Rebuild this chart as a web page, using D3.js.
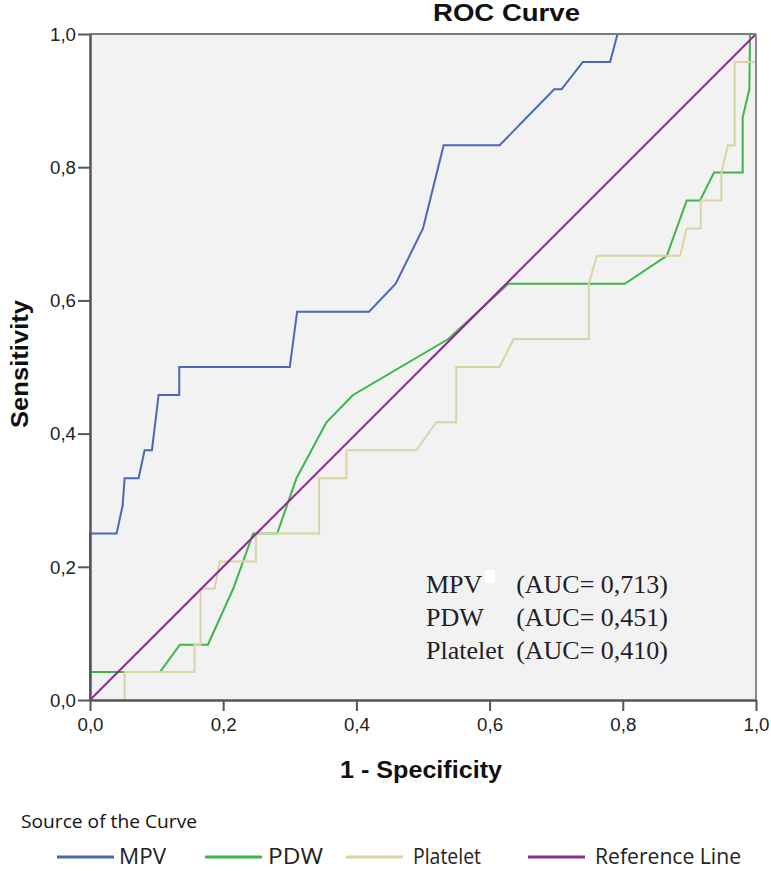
<!DOCTYPE html>
<html>
<head>
<meta charset="utf-8">
<script src="https://cdn.jsdelivr.net/npm/d3@7/dist/d3.min.js"></script>
<style>
  html, body { margin: 0; padding: 0; background: #fff; }
  svg { display: block; }
</style>
</head>
<body>
<svg id="chart" width="771" height="871"></svg>
<script>
// ---- data ----
const tickValues = [0, 0.2, 0.4, 0.6, 0.8, 1.0];
const tickLabels = ["0,0", "0,2", "0,4", "0,6", "0,8", "1,0"];
const seriesNames = ["MPV", "PDW", "Platelet", "Reference Line"];
const seriesColors = ["#4a67b8", "#3db54a", "#d9d4a2", "#8a2f8c"];
const aucLabels = ["MPV", "PDW", "Platelet"];
const aucValues = ["(AUC= 0,713)", "(AUC= 0,451)", "(AUC= 0,410)"];

const mpv = [[0,0],[0,0.25],[0.04,0.25],[0.049,0.292],[0.052,0.333],[0.073,0.333],[0.082,0.375],[0.093,0.375],
  [0.103,0.458],[0.134,0.458],[0.134,0.5],[0.3,0.5],[0.311,0.583],[0.419,0.583],[0.459,0.625],[0.5,0.708],
  [0.531,0.833],[0.615,0.833],[0.697,0.917],[0.708,0.917],[0.74,0.958],[0.781,0.958],[0.792,1],[1,1]];
const pdw = [[0,0],[0,0.042],[0.105,0.042],[0.135,0.083],[0.177,0.083],[0.215,0.167],[0.245,0.25],[0.281,0.25],
  [0.31,0.333],[0.355,0.417],[0.395,0.458],[0.538,0.542],[0.628,0.625],[0.803,0.625],[0.866,0.667],[0.896,0.75],
  [0.916,0.75],[0.937,0.792],[0.98,0.792],[0.98,0.875],[0.99,0.917],[0.991,1],[1,1]];
const platelet = [[0,0],[0.052,0],[0.052,0.042],[0.157,0.042],[0.157,0.083],[0.166,0.083],[0.166,0.167],[0.187,0.167],
  [0.195,0.208],[0.249,0.208],[0.249,0.25],[0.344,0.25],[0.344,0.333],[0.385,0.333],[0.385,0.375],[0.49,0.375],
  [0.52,0.417],[0.55,0.417],[0.55,0.5],[0.615,0.5],[0.636,0.542],[0.749,0.542],[0.749,0.625],[0.761,0.667],
  [0.886,0.667],[0.896,0.708],[0.917,0.708],[0.917,0.75],[0.948,0.75],[0.948,0.792],[0.958,0.833],[0.968,0.833],
  [0.968,0.958],[1,0.958],[1,1]];
const reference = [[0,0],[1,1]];

// ---- layout ----
const svg = d3.select("#chart");
const L = 90, R = 756, T = 34, B = 700;
const x = d3.scaleLinear().domain([0, 1]).range([L, R]);
const y = d3.scaleLinear().domain([0, 1]).range([B, T]);

svg.append("rect").attr("x", L).attr("y", T).attr("width", R - L).attr("height", B - T)
  .attr("fill", "#f2f2f2");

const line = d3.line().x(d => x(d[0])).y(d => y(d[1]));
const allSeries = [mpv, pdw, platelet, reference];
allSeries.forEach((s, i) => {
  svg.append("path").datum(s).attr("d", line)
    .attr("fill", "none").attr("stroke", seriesColors[i])
    .attr("stroke-width", 2).attr("stroke-linejoin", "miter");
});

svg.append("line").attr("x1", L).attr("x2", R).attr("y1", T).attr("y2", T)
  .attr("stroke", "#7a7a7a").attr("stroke-width", 2);
svg.append("line").attr("x1", R).attr("x2", R).attr("y1", T).attr("y2", B)
  .attr("stroke", "#8a8a8a").attr("stroke-width", 2);

const fmt = v => tickLabels[tickValues.indexOf(v)];
const yAxis = svg.append("g").attr("transform", `translate(${L},0)`)
  .call(d3.axisLeft(y).tickValues(tickValues).tickFormat(fmt).tickSize(12).tickSizeOuter(0).tickPadding(2));
const xAxis = svg.append("g").attr("transform", `translate(0,${B})`)
  .call(d3.axisBottom(x).tickValues(tickValues).tickFormat(fmt).tickSize(11).tickSizeOuter(0).tickPadding(5));
[yAxis, xAxis].forEach(g => {
  g.select(".domain").attr("stroke", "#555").attr("stroke-width", 2.5);
  g.selectAll(".tick line").attr("stroke", "#555").attr("stroke-width", 2);
  g.selectAll(".tick text").attr("font-family", "Liberation Sans, Arial, sans-serif")
    .attr("font-size", 18).attr("fill", "#222")
    .attr("textLength", 26).attr("lengthAdjust", "spacingAndGlyphs");
});
yAxis.selectAll(".tick text").attr("dy", "0.35em");
xAxis.selectAll(".tick text").attr("dy", "0.85em");

aucLabels.forEach((lab, i) => {
  const by = 593 + i * 33;
  svg.append("text").attr("x", 426).attr("y", by).text(lab)
    .attr("font-family", "Liberation Serif, Times New Roman, serif").attr("font-size", 26).attr("fill", "#1e1e28");
  svg.append("text").attr("x", 668).attr("y", by).text(aucValues[i]).attr("text-anchor", "end")
    .attr("font-family", "Liberation Serif, Times New Roman, serif").attr("font-size", 26).attr("fill", "#1e1e28");
});
svg.append("rect").attr("x", 485).attr("y", 570).attr("width", 10).attr("height", 13).attr("fill", "#fff");

svg.append("text").attr("x", 433).attr("y", 21).text("ROC Curve")
  .attr("font-family", "Liberation Sans, Arial, sans-serif").attr("font-weight", "bold")
  .attr("font-size", 23).attr("fill", "#111")
  .attr("textLength", 147).attr("lengthAdjust", "spacingAndGlyphs");
svg.append("text").attr("x", 340).attr("y", 778).text("1 - Specificity")
  .attr("font-family", "Liberation Sans, Arial, sans-serif").attr("font-weight", "bold")
  .attr("font-size", 23).attr("fill", "#111")
  .attr("textLength", 162).attr("lengthAdjust", "spacingAndGlyphs");
svg.append("text").attr("transform", "translate(28,428) rotate(-90)").text("Sensitivity")
  .attr("font-family", "Liberation Sans, Arial, sans-serif").attr("font-weight", "bold")
  .attr("font-size", 23).attr("fill", "#111")
  .attr("textLength", 128).attr("lengthAdjust", "spacingAndGlyphs");

svg.append("text").attr("x", 21).attr("y", 828).text("Source of the Curve")
  .attr("font-family", "Open Sans, sans-serif").attr("font-size", 19).attr("fill", "#111")
  .attr("textLength", 176).attr("lengthAdjust", "spacingAndGlyphs");
const legLineX = [57, 205, 346, 528];
const legTextX = [119, 268, 413, 595];
const legTextW = [47, 55, 68, 146];
seriesNames.forEach((n, i) => {
  svg.append("line").attr("x1", legLineX[i]).attr("x2", legLineX[i] + 57)
    .attr("y1", 857).attr("y2", 857).attr("stroke", seriesColors[i]).attr("stroke-width", 3);
  svg.append("text").attr("x", legTextX[i]).attr("y", 864).text(n)
    .attr("font-family", "Open Sans, sans-serif").attr("font-size", 21).attr("fill", "#222")
    .attr("textLength", legTextW[i]).attr("lengthAdjust", "spacingAndGlyphs");
});
</script>
</body>
</html>
